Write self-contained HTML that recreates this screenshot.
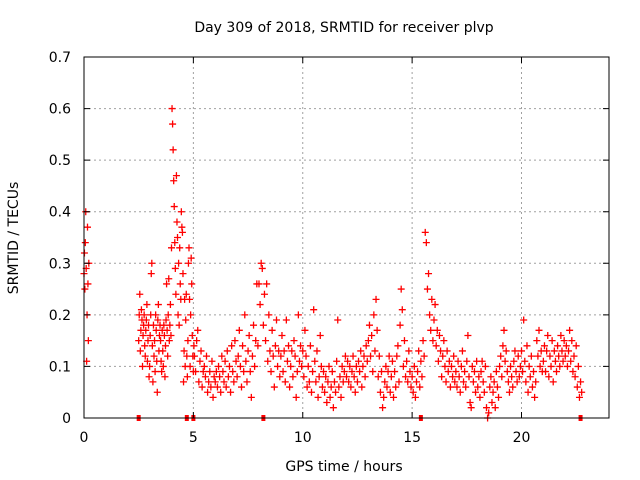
<!DOCTYPE html>
<html><head><meta charset="utf-8"><style>
body{margin:0;background:#fff}
svg{display:block;font-family:"DejaVu Sans","Liberation Sans",sans-serif}
</style></head><body>
<svg id="c" width="640" height="480">
<text x="344" y="32" font-size="14" text-anchor="middle">Day 309 of 2018, SRMTID for receiver plvp</text>
<text x="344" y="471" font-size="14" text-anchor="middle">GPS time / hours</text>
<text transform="translate(18,238) rotate(-90)" font-size="14" text-anchor="middle">SRMTID / TECUs</text>
<g id="grid"></g><g id="pts"></g><g id="axes"></g>
</svg>
<script>
const xTicks=[0,5,10,15,20];
const yTicks=[0,0.1,0.2,0.3,0.4,0.5,0.6,0.7];
const yTickLabels=["0","0.1","0.2","0.3","0.4","0.5","0.6","0.7"];
const gapMarks=[2.5,4.7,5.0,8.2,15.4,22.7];
const segStarts=[0.0,2.5,5.05];
const segSteps=[0.02,0.025,0.05];
const segA=[0.28,0.32,0.25,0.34,0.40,0.29,0.11,0.20,0.37,0.26,0.15,0.30];
const segB=[0.15,0.20,0.24,0.13,0.17,0.21,0.19,0.10,0.16,0.18,0.20,0.14,0.12,0.17,0.19,0.22,0.11,0.15,0.18,0.08,
0.10,0.16,0.20,0.28,0.30,0.14,0.07,0.18,0.12,0.15,0.09,0.20,0.17,0.11,0.05,0.19,0.22,0.13,0.16,0.18,
0.15,0.11,0.09,0.17,0.13,0.10,0.18,0.16,0.08,0.14,0.19,0.26,0.17,0.12,0.20,0.27,0.15,0.18,0.22,0.16,
0.33,0.60,0.57,0.52,0.46,0.41,0.34,0.29,0.24,0.47,0.38,0.35,0.20,0.30,0.18,0.33,0.26,0.23,0.40,0.37,
0.36,0.28,0.07,0.13,0.23,0.10,0.19,0.24,0.12,0.08,0.15,0.30,0.33,0.23,0.10,0.20,0.31,0.26,0.16,0.12,0.09,0.14];
const segC=[0.12,0.09,0.15,0.17,0.07,0.11,0.13,0.06,0.09,0.10,0.08,0.12,0.05,0.07,0.09,0.06,0.11,0.04,0.08,
0.07,0.09,0.06,0.10,0.08,0.05,0.12,0.09,0.07,0.11,0.06,0.13,0.08,0.10,0.05,0.14,0.09,0.07,0.15,0.11,
0.08,0.12,0.17,0.10,0.06,0.14,0.09,0.20,0.11,0.07,0.13,0.16,0.09,0.04,0.12,0.18,0.10,0.15,0.26,0.14,
0.26,0.22,0.30,0.29,0.18,0.24,0.15,0.26,0.11,0.20,0.13,0.09,0.17,0.12,0.06,0.14,0.19,0.10,0.13,0.08,
0.12,0.16,0.09,0.13,0.07,0.19,0.11,0.14,0.06,0.10,0.13,0.08,0.15,0.12,0.04,0.09,0.20,0.11,0.14,0.10,
0.13,0.08,0.17,0.12,0.06,0.10,0.07,0.14,0.05,0.09,0.21,0.11,0.07,0.13,0.04,0.08,0.16,0.10,0.06,0.09,
0.05,0.08,0.03,0.07,0.10,0.04,0.06,0.09,0.02,0.07,0.05,0.11,0.19,0.06,0.08,0.04,0.10,0.07,0.09,0.12,
0.08,0.11,0.07,0.10,0.06,0.09,0.12,0.08,0.05,0.10,0.07,0.11,0.09,0.13,0.06,0.10,0.12,0.08,0.14,0.11,
0.15,0.18,0.12,0.16,0.09,0.20,0.13,0.23,0.17,0.08,0.12,0.05,0.09,0.02,0.04,0.07,0.10,0.06,0.09,0.12,
0.05,0.08,0.11,0.04,0.09,0.06,0.12,0.14,0.07,0.18,0.25,0.21,0.10,0.15,0.08,0.11,0.07,0.13,0.09,0.06,
0.08,0.05,0.10,0.04,0.07,0.09,0.13,0.06,0.11,0.08,0.15,0.12,0.36,0.34,0.25,0.28,0.20,0.17,0.23,0.15,
0.19,0.22,0.14,0.17,0.11,0.16,0.13,0.08,0.12,0.15,0.10,0.07,0.13,0.09,0.11,0.06,0.10,0.08,0.12,0.07,
0.09,0.06,0.11,0.08,0.05,0.10,0.13,0.07,0.09,0.06,0.11,0.16,0.08,0.03,0.02,0.10,0.07,0.09,0.05,0.11,
0.06,0.08,0.04,0.09,0.11,0.07,0.05,0.10,0.02,0.00,0.01,0.06,0.08,0.03,0.05,0.07,0.02,0.09,0.06,0.04,
0.10,0.12,0.08,0.14,0.17,0.11,0.13,0.09,0.07,0.05,0.10,0.08,0.06,0.11,0.13,0.09,0.07,0.12,0.08,0.10,
0.13,0.09,0.19,0.11,0.07,0.14,0.05,0.10,0.08,0.12,0.06,0.09,0.04,0.07,0.15,0.12,0.17,0.10,0.13,0.09,
0.11,0.14,0.09,0.13,0.16,0.08,0.12,0.10,0.15,0.07,0.13,0.11,0.09,0.14,0.12,0.10,0.16,0.13,0.11,0.15,
0.12,0.14,0.10,0.13,0.17,0.11,0.15,0.09,0.12,0.08,0.14,0.06,0.10,0.04,0.07,0.05];
const segs=[segA,segB,segC];

const L=84,R=609,T=57,B=418,XMAX=24,YMAX=0.7;
const sx=v=>L+(R-L)*v/XMAX, sy=v=>B-(B-T)*v/YMAX;
const NS="http://www.w3.org/2000/svg";
function mk(tag,attrs,parent){const e=document.createElementNS(NS,tag);for(const k in attrs)e.setAttribute(k,attrs[k]);parent.appendChild(e);return e;}
const grid=document.getElementById('grid'),pts=document.getElementById('pts'),axes=document.getElementById('axes');
xTicks.forEach(t=>{
  if(t>0){const g=mk('line',{x1:sx(t),x2:sx(t),y1:T,y2:B,stroke:'#a0a0a0','stroke-dasharray':'2,3'},grid);
  
  }
  const tk=mk('path',{d:`M${sx(t)},${B}v-6M${sx(t)},${T}v6`,stroke:'#000'},axes);
  
  
  const lb=mk('text',{x:sx(t),y:B+24,'font-size':14,'text-anchor':'middle'},axes);lb.textContent=t;
  
  
});
yTicks.forEach((t,i)=>{
  if(t>0&&t<YMAX){const g=mk('line',{x1:L,x2:R,y1:sy(t),y2:sy(t),stroke:'#a0a0a0','stroke-dasharray':'2,3'},grid);
  
  }
  const tk=mk('path',{d:`M${L},${sy(t)}h6M${R},${sy(t)}h-6`,stroke:'#000'},axes);
  
  
  const lb=mk('text',{x:L-13,y:sy(t)+5,'font-size':14,'text-anchor':'end'},axes);lb.textContent=yTickLabels[i];
  
  
});
segs.forEach((s,si)=>{s.forEach((v,i)=>{
  const x=sx(segStarts[si]+i*segSteps[si]),y=sy(v);
  const p=mk('path',{d:`M${x-3.5},${y}h7M${x},${y-3.5}v7`,stroke:'#ff0000','stroke-width':1.3},pts);
  
  
});});
gapMarks.forEach(t=>{
  const r=mk('rect',{x:sx(t)-2,y:B-3,width:4,height:6,fill:'#ff0000'},pts);
  
  
});
const f=mk('rect',{x:L,y:T,width:R-L,height:B-T,fill:'none',stroke:'#000'},axes);


</script>
</body></html>
